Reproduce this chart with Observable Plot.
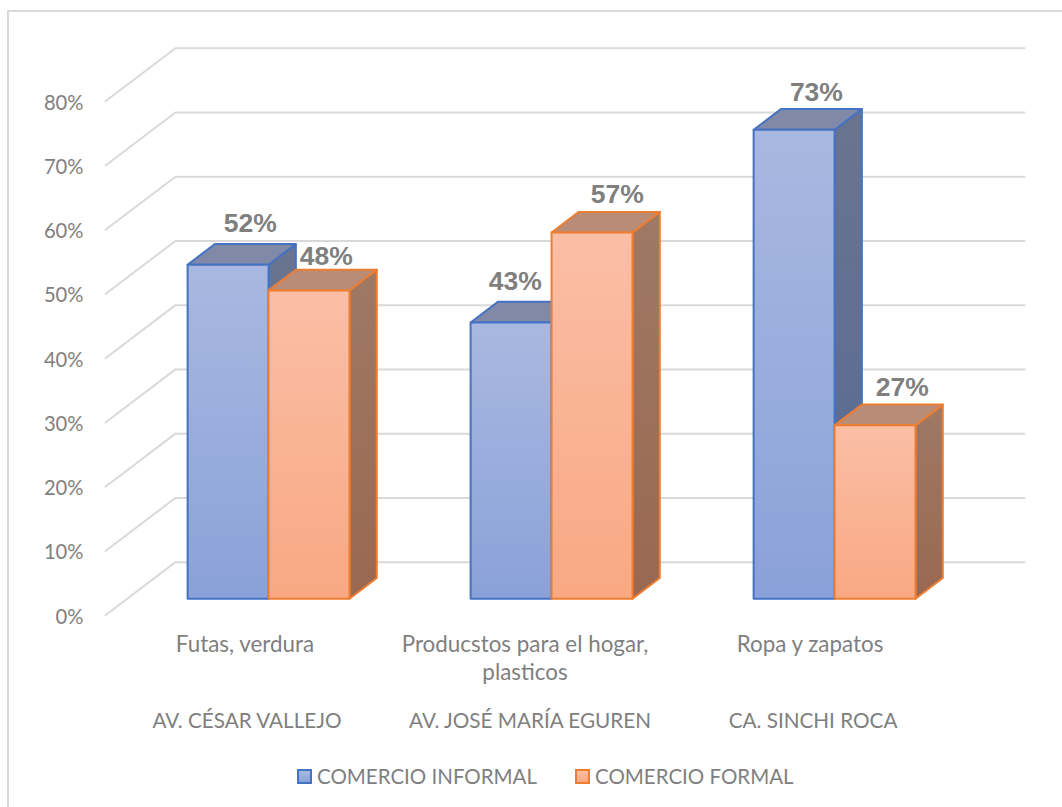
<!DOCTYPE html>
<html lang="es">
<head>
<meta charset="utf-8">
<script src="https://cdn.jsdelivr.net/npm/d3@7"></script>
<script src="https://cdn.jsdelivr.net/npm/@observablehq/plot@0.6"></script>
<style>
  html, body { margin: 0; padding: 0; background: #fff; }
  #frame { position: relative; width: 1062px; height: 807px; overflow: hidden; font-family: Lato, sans-serif; }
  #border { position: absolute; left: 7px; top: 10px; right: -4px; bottom: -4px; border: 2px solid #d9d9d9; box-sizing: border-box; }
  #chart { position: absolute; left: 0; top: 0; }
  #legend { position: absolute; left: 0; top: 762px; width: 1062px; height: 28px; color: #7f7f7f; font-size: 20.5px; }
  #legend .item { position: absolute; top: 0; height: 28px; display: flex; align-items: center; white-space: nowrap; }
  #legend .swatch { width: 15px; height: 15px; box-sizing: border-box; border: 2px solid; margin-right: 5px; }
</style>
</head>
<body>
<div id="frame">
  <div id="border"></div>
  <div id="chart"></div>
  <div id="legend"></div>
</div>
<script>
const categories = ["Futas, verdura", "Producstos para el hogar,\nplasticos", "Ropa y zapatos"];
const streets = ["AV. CÉSAR VALLEJO", "AV. JOSÉ MARÍA EGUREN", "CA. SINCHI ROCA"];
const seriesNames = ["COMERCIO INFORMAL", "COMERCIO FORMAL"];
const informal = [52, 43, 73];
const formal = [48, 57, 27];
const yTicks = [0, 10, 20, 30, 40, 50, 60, 70, 80];

// Oblique projection of the Excel-style 3D plot, all in data units.
const depthX = 0.2472;   // categories gained going from front to back wall
const depthY = 8.26;     // percentage points gained going from front to back wall
const barDepthNear = 0.31;
const barDepthFar = 0.70;
const barW = 0.286;
const barStart = 0.2135;
const project = (c, v, d) => ({x: c + d * depthX, y: v + d * depthY});

const bars = (values, s) => values.map((v, i) => {
  const x1 = i + barStart + s * barW, x2 = x1 + barW;
  return {
    v,
    front: [project(x1, 0, barDepthNear), project(x2, 0, barDepthNear), project(x2, v, barDepthNear), project(x1, v, barDepthNear), project(x1, 0, barDepthNear)],
    top: [project(x1, v, barDepthNear), project(x2, v, barDepthNear), project(x2, v, barDepthFar), project(x1, v, barDepthFar), project(x1, v, barDepthNear)],
    side: [project(x2, 0, barDepthNear), project(x2, 0, barDepthFar), project(x2, v, barDepthFar), project(x2, v, barDepthNear), project(x2, 0, barDepthNear)]
  };
});
const faceMark = (list, face, fill, stroke) => list.map(b =>
  Plot.line(b[face], {x: "x", y: "y", fill, stroke, strokeWidth: 2, strokeLinejoin: "round", curve: "linear"}));

const gradient = (id, top, bottom) => `<linearGradient id="${id}" x1="0" y1="0" x2="0" y2="1"><stop offset="0" stop-color="${top}"/><stop offset="1" stop-color="${bottom}"/></linearGradient>`;
const defs = () => {
  const g = document.createElementNS("http://www.w3.org/2000/svg", "defs");
  g.innerHTML = gradient("bf", "#a9b8e0", "#8aa1d9") + gradient("bs", "#69748f", "#566a96") +
                gradient("of", "#fabea6", "#f9a883") + gradient("os", "#9e7965", "#9a6850");
  return g;
};

const gridRows = yTicks.flatMap(t => [
  {t, ...project(0, t, 0)}, {t, ...project(0, t, 1)}, {t, ...project(3, t, 1)}
]);
const blue = bars(informal, 0), orange = bars(formal, 1);

const labelNudge = [
  {s: 0, i: 0, dx: -5, dy: -12}, {s: 1, i: 0, dx: -10, dy: -5},
  {s: 0, i: 1, dx: -23, dy: -12}, {s: 1, i: 1, dx: -2, dy: -9},
  {s: 0, i: 2, dx: -5, dy: -8}, {s: 1, i: 2, dx: 0, dy: -9}
];
const labelMarks = labelNudge.map(({s, i, dx, dy}) => {
  const v = (s ? formal : informal)[i];
  const p = project(i + barStart + (s + 0.5) * barW, v, barDepthFar);
  return Plot.text([{...p, label: v + "%"}], {
    x: "x", y: "y", text: "label", dx, dy, lineAnchor: "bottom",
    fill: "#7f7f7f", fontSize: 26.5, fontWeight: "bold", fontFamily: "Liberation Sans"
  });
});

const categoryNudge = [-2, -5, -3];
const categoryMarks = categories.map((label, i) =>
  Plot.text([label], {x: () => i + 0.5, y: () => 0, text: d => d, dx: categoryNudge[i], dy: 17, lineAnchor: "top", lineHeight: 1.25, fill: "#7f7f7f", fontSize: 22.4}));

const W = 1062, H = 762;
const chart = Plot.plot({
  width: W, height: H,
  marginLeft: 105, marginRight: 38, marginTop: 47.7, marginBottom: H - 614.7,
  x: {domain: [0, 3 + depthX], axis: null},
  y: {domain: [0, 80 + depthY]},
  style: {fontFamily: "Lato, sans-serif", background: "transparent", overflow: "visible"},
  marks: [
    defs,
    Plot.line(gridRows, {x: "x", y: "y", z: "t", stroke: "#d9d9d9", strokeWidth: 2}),
    Plot.axisY(yTicks, {anchor: "left", tickSize: 0, tickPadding: 22, tickFormat: d => d + "%", label: null, fontSize: 20.2, fill: "#7f7f7f", dy: 2}),
    ...faceMark(blue, "side", "url(#bs)", "#4472c4"),
    ...faceMark(blue, "top", "#8089a8", "#4472c4"),
    ...faceMark(blue, "front", "url(#bf)", "#4472c4"),
    ...faceMark(orange, "side", "url(#os)", "#ed7d31"),
    ...faceMark(orange, "top", "#b98c78", "#ed7d31"),
    ...faceMark(orange, "front", "url(#of)", "#ed7d31"),
    ...labelMarks,
    ...categoryMarks,
    Plot.text(streets, {x: (d, i) => i + 0.5, y: () => 0, text: d => d, dy: 106.5, lineAnchor: "middle", fill: "#7f7f7f", fontSize: 20.7})
  ]
});
document.getElementById("chart").append(chart);

const legend = document.getElementById("legend");
[[seriesNames[0], "#4472c4", "#a9b8e0", "#8aa1d9", 297], [seriesNames[1], "#ed7d31", "#fabea6", "#f9a883", 575]].forEach(([name, border, a, b, left]) => {
  const item = document.createElement("div");
  item.className = "item";
  item.style.left = left + "px";
  const sw = document.createElement("div");
  sw.className = "swatch";
  sw.style.borderColor = border;
  sw.style.background = `linear-gradient(${a}, ${b})`;
  const t = document.createElement("span");
  t.textContent = name;
  item.append(sw, t);
  legend.append(item);
});
</script>
</body>
</html>
